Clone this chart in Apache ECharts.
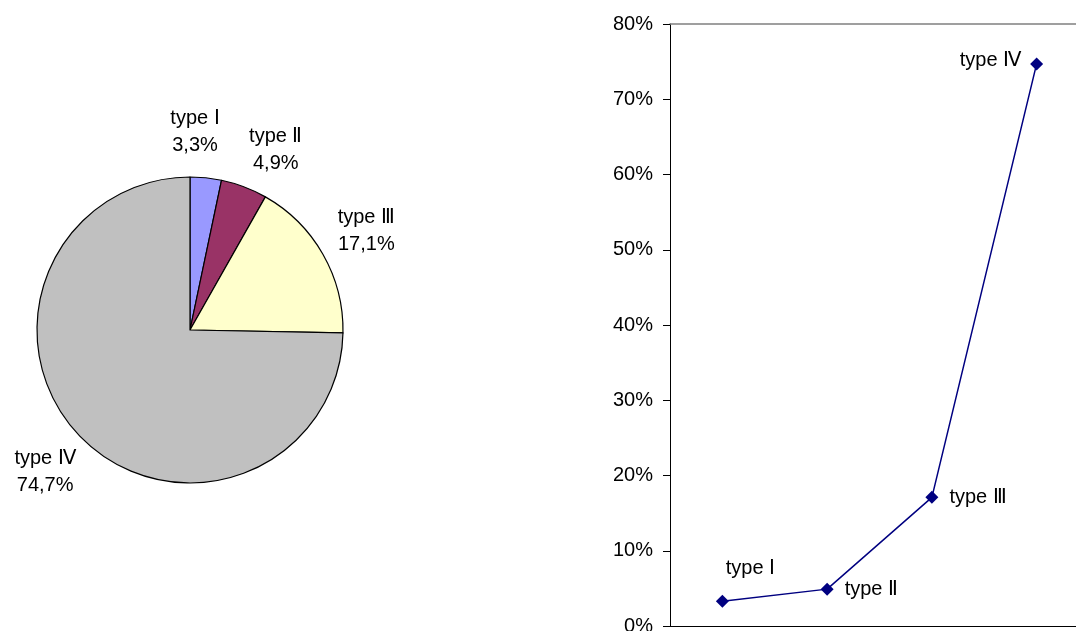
<!DOCTYPE html>
<html>
<head>
<meta charset="utf-8">
<script src="https://cdn.jsdelivr.net/npm/echarts@6/dist/echarts.min.js"></script>
<style>html,body{margin:0;padding:0;background:#fff}#c{width:1076px;height:631px}</style>
</head>
<body>
<div id="c"></div>
<script>
var categories = ['type Ⅰ', 'type Ⅱ', 'type Ⅲ', 'type Ⅳ'];
var shares = [3.3, 4.9, 17.1, 74.7];
var sliceColors = ['#9999FF', '#993366', '#FFFFCC', '#C0C0C0'];
var yTicks = [0, 10, 20, 30, 40, 50, 60, 70, 80];
var linePos = ['top', 'right', 'right', 'left'];

var FONT = 'Arial, "Liberation Sans", sans-serif';
function fmtPct(v) { return v.toFixed(1).replace('.', ',') + '%'; }

// label nudges (style, not data)
var pieLabelNudge = { 0: [-16, 4], 1: [14, 10], 2: [0, 2] };

var pieData = categories.map(function (c, i) {
  return { name: c, value: shares[i], itemStyle: { color: sliceColors[i] } };
});
var labelData = categories.map(function (c, i) {
  var d = { name: c, value: shares[i] };
  if (pieLabelNudge[i]) d.label = { offset: pieLabelNudge[i] };
  return d;
});
var lineData = categories.map(function (c, i) {
  var p = linePos[i];
  var lab = { position: p };
  if (p === 'top') { lab.offset = [28, -11]; }
  if (p === 'right') { lab.distance = 11; }
  if (p === 'left') { lab.distance = 9; lab.offset = [0, -3]; }
  return { value: shares[i], label: lab };
});

var chart = echarts.init(document.getElementById('c'), null, { renderer: 'canvas' });
chart.setOption({
  animation: false,
  backgroundColor: '#fff',
  textStyle: { fontFamily: FONT },
  grid: { left: 670, top: 24, width: 419, height: 602, outerBoundsMode: 'none', containLabel: false },
  xAxis: [{
    type: 'category', data: categories, position: 'bottom', boundaryGap: true,
    axisLine: { lineStyle: { color: '#000', width: 1 } },
    axisTick: { show: false }, axisLabel: { show: false }, splitLine: { show: false }
  }, {
    type: 'category', data: categories, position: 'top', boundaryGap: true,
    axisLine: { lineStyle: { color: '#808080', width: 1.5 } },
    axisTick: { show: false }, axisLabel: { show: false }, splitLine: { show: false }
  }],
  yAxis: {
    type: 'value', min: yTicks[0], max: yTicks[yTicks.length - 1], interval: 10,
    axisLine: { show: true, lineStyle: { color: '#000', width: 1 } },
    axisTick: { show: true, length: 7, lineStyle: { color: '#000' } },
    axisLabel: { color: '#000', fontSize: 20, fontFamily: FONT, margin: 17,
      formatter: function (v) { return v + '%'; } },
    splitLine: { show: false }
  },
  series: [{
    type: 'pie', center: [190, 330], radius: 153, startAngle: 90, clockwise: true,
    silent: true,
    data: pieData,
    itemStyle: { borderColor: '#000', borderWidth: 1.2 },
    label: { show: false }, labelLine: { show: false }
  }, {
    type: 'pie', center: [190, 330], radius: [176, 224], startAngle: 90, clockwise: true,
    silent: true, avoidLabelOverlap: false, minShowLabelAngle: 0,
    labelLayout: { hideOverlap: false },
    data: labelData,
    itemStyle: { color: 'rgba(0,0,0,0)', borderWidth: 0 },
    label: { show: true, position: 'inside', color: '#000', fontSize: 20, fontFamily: FONT,
      lineHeight: 27, align: 'center',
      formatter: function (p) { return p.name + '\n' + fmtPct(p.value); } },
    labelLine: { show: false }
  }, {
    type: 'line', xAxisIndex: 0, data: lineData,
    symbol: 'diamond', symbolSize: 13,
    lineStyle: { color: '#000080', width: 1.5 },
    itemStyle: { color: '#000080' },
    label: { show: true, color: '#000', fontSize: 20, fontFamily: FONT,
      formatter: function (p) { return categories[p.dataIndex]; } }
  }]
});
</script>
</body>
</html>
